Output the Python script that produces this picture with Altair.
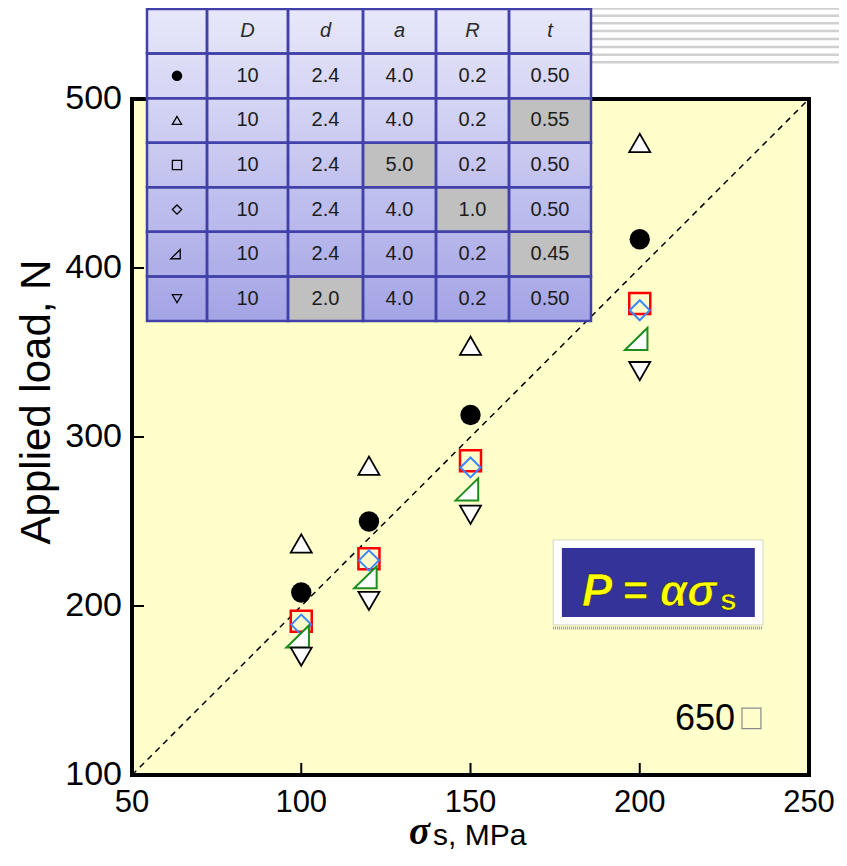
import altair as alt
import pandas as pd

# ------------------------------------------------------------------ data
sigma_s = [100, 120, 150, 200]

series_names = ["circle", "triangle_up", "square", "diamond", "right_triangle", "triangle_down"]
load_circle = [208, 250, 313, 417]
load_triangle_up = [237, 283, 354, 474]
load_square = [191, 228, 286, 379]
load_diamond = [189, 227, 282, 375]
load_right_triangle = [182, 217, 269, 358]
load_triangle_down = [170, 203, 254, 339]
series_loads = [load_circle, load_triangle_up, load_square, load_diamond,
                load_right_triangle, load_triangle_down]

fit_sigma = [50, 250]
fit_load = [100, 500]

x_ticks = [50, 100, 150, 200, 250]
y_ticks = [100, 200, 300, 400, 500]

table_header = ["", "D", "d", "a", "R", "t"]
col_D = ["10", "10", "10", "10", "10", "10"]
col_d = ["2.4", "2.4", "2.4", "2.4", "2.4", "2.0"]
col_a = ["4.0", "4.0", "5.0", "4.0", "4.0", "4.0"]
col_R = ["0.2", "0.2", "0.2", "1.0", "0.2", "0.2"]
col_t = ["0.50", "0.55", "0.50", "0.50", "0.45", "0.50"]
table_cols = [col_D, col_d, col_a, col_R, col_t]

temperature_label = "650"
y_title = "Applied load, N"

# ------------------------------------------------------------------ styles / layout
W, H = 677, 676
RIGHT_TRI = "M -1.35 1 L 0.7 1 L 0.7 -1 Z"
SHAPES = ["circle", "triangle-up", "square", "diamond", RIGHT_TRI, "triangle-down"]
STYLE = {
    "circle": dict(shape="circle", fill="black", stroke="black", strokeWidth=0, size=415),
    "triangle_up": dict(shape="triangle-up", fill="white", stroke="black", strokeWidth=1.8, size=441),
    "square": dict(shape="square", fill="transparent", stroke="#ff0000", strokeWidth=2.5, size=441),
    "diamond": dict(shape="diamond", fill="transparent", stroke="#3a86ff", strokeWidth=2, size=400),
    "right_triangle": dict(shape=RIGHT_TRI, fill="white", stroke="#1e8c1e", strokeWidth=2, size=484),
    "triangle_down": dict(shape="triangle-down", fill="white", stroke="black", strokeWidth=1.8, size=441),
}
TABLE_FILLS = ["black", "transparent", "transparent", "transparent", "transparent", "transparent"]
FONT = "Liberation Sans"

xs = alt.Scale(domain=[50, 250], nice=False, zero=False)
ys = alt.Scale(domain=[100, 500], nice=False, zero=False)

ONE = pd.DataFrame({"k": [0]})


def X(field, **kw):
    return alt.X(field, scale=xs, axis=None, **kw)


def Y(field, **kw):
    return alt.Y(field, scale=ys, axis=None, **kw)


# ------------------------------------------------------------------ main plot
fit = alt.Chart(pd.DataFrame({"sigma": fit_sigma, "load": fit_load})).mark_line(
    color="black", strokeDash=[6, 5], strokeWidth=1.5
).encode(x=X("sigma:Q"), y=Y("load:Q"))

left_ticks = alt.Chart(pd.DataFrame({"v": y_ticks})).mark_rule(color="black", strokeWidth=2).encode(
    y=Y("v:Q"), x=alt.value(0), x2=alt.value(12))
bottom_ticks = alt.Chart(pd.DataFrame({"v": x_ticks})).mark_rule(color="black", strokeWidth=2).encode(
    x=X("v:Q"), y=alt.value(H), y2=alt.value(H - 12))

# tick labels (drawn through the same scales)
x_labels = alt.Chart(pd.DataFrame({"v": x_ticks})).mark_text(
    font=FONT, fontSize=31, color="black", align="center", baseline="top"
).encode(x=X("v:Q"), y=alt.value(H + 13), text="v:Q")
y_labels = alt.Chart(pd.DataFrame({"v": y_ticks})).mark_text(
    font=FONT, fontSize=34, color="black", align="right", baseline="middle"
).encode(y=Y("v:Q"), x=alt.value(-10), text="v:Q")

point_layers = []
for name, vals in zip(series_names, series_loads):
    st = STYLE[name]
    point_layers.append(
        alt.Chart(pd.DataFrame({"sigma": sigma_s, "load": vals})).mark_point(
            filled=True, opacity=1, fillOpacity=1, **st
        ).encode(x=X("sigma:Q"), y=Y("load:Q"))
    )

# formula box  P = alpha sigma_s  (annotation placed in data units)
box_outer = alt.Chart(pd.DataFrame({"x": [174.4], "x2": [236.4], "y": [188.8], "y2": [239.1]})).mark_rect(
    fill="white", stroke="#d6d6c0", strokeWidth=1).encode(x=X("x:Q"), x2="x2:Q", y=Y("y:Q"), y2="y2:Q")
box_inner = alt.Chart(pd.DataFrame({"x": [177.0], "x2": [234.0], "y": [193.5], "y2": [234.3]})).mark_rect(
    fill="#333399").encode(x=X("x:Q"), x2="x2:Q", y=Y("y:Q"), y2="y2:Q")
box_shadow = alt.Chart(pd.DataFrame({"x": [174.4], "x2": [236.4], "y": [187.0]})).mark_rule(
    color="#9a9a90", strokeWidth=3, strokeDash=[1, 1]).encode(x=X("x:Q"), x2="x2:Q", y=Y("y:Q"))

formula_parts = [
    ("P", 182.9, 200.0, 46, "italic"),
    ("=", 195.0, 200.0, 44, "normal"),
    ("ασ", 206.0, 200.0, 44, "italic"),
    ("s", 223.7, 197.6, 30, "normal"),
]
formula_layers = []
for txt, px, py, fs, style in formula_parts:
    formula_layers.append(
        alt.Chart(pd.DataFrame({"x": [px], "y": [py], "t": [txt]})).mark_text(
            font=FONT, fontSize=fs, fontWeight="bold", fontStyle=style, color="#ffff00",
            stroke="#15153c", strokeWidth=0.6, align="left", baseline="alphabetic"
        ).encode(x=X("x:Q"), y=Y("y:Q"), text="t:N")
    )

temp_text = alt.Chart(pd.DataFrame({"x": [210.4], "y": [126.6], "t": [temperature_label]})).mark_text(
    font=FONT, fontSize=36, color="black", align="left", baseline="alphabetic"
).encode(x=X("x:Q"), y=Y("y:Q"), text="t:N")
tofu = alt.Chart(pd.DataFrame({"x": [230.2], "x2": [235.8], "y": [127.4], "y2": [139.6]})).mark_rect(
    fill="transparent", stroke="#8a8a8a", strokeWidth=1.2).encode(x=X("x:Q"), x2="x2:Q", y=Y("y:Q"), y2="y2:Q")

# axis titles
y_title_mark = alt.Chart(ONE).mark_text(
    text=y_title, font=FONT, fontSize=42, angle=270, align="center", baseline="alphabetic", color="black"
).encode(x=alt.value(-82), y=alt.value(303))
x_title_sigma = alt.Chart(ONE).mark_text(
    text="σ", font="Liberation Serif", fontSize=39, fontStyle="italic", fontWeight="bold",
    align="left", baseline="alphabetic", color="black"
).encode(x=alt.value(277), y=alt.value(745))
x_title_rest = alt.Chart(ONE).mark_text(
    text="s, MPa", font=FONT, fontSize=30, align="left", baseline="alphabetic", color="black"
).encode(x=alt.value(301), y=alt.value(746))

main = alt.layer(fit, left_ticks, bottom_ticks, x_labels, y_labels, *point_layers,
                 box_outer, box_inner, box_shadow, *formula_layers, temp_text, tofu,
                 y_title_mark, x_title_sigma, x_title_rest)

# ------------------------------------------------------------------ slide stripes (decoration)
STRIPE_Y = [-90.5, -83.3, -75.7, -68, -60, -52, -44.3, -36.7]
stripes = alt.layer(*[
    alt.Chart(ONE).mark_rule(color="#d0d0d0", strokeWidth=2.5).encode(
        x=alt.value(440), x2=alt.value(710), y=alt.value(v))
    for v in STRIPE_Y
])

# ------------------------------------------------------------------ parameter table
tx = alt.Scale(domain=[0, 1, 2, 3, 4, 5, 6], range=[15, 75, 156, 231, 304, 377, 459], nice=False, zero=False)
ty = alt.Scale(domain=[0, 7], range=[-90, 222], nice=False, zero=False)


def TX(field):
    return alt.X(field, scale=tx, axis=None)


def TY(field):
    return alt.Y(field, scale=ty, axis=None)


value_rows = []
for r in range(6):
    for c, col in enumerate(table_cols):
        value_rows.append({"r": r + 1, "c": c + 1, "t": col[r], "hl": col[r] != col[0]})
values_df = pd.DataFrame(value_rows)
header_df = pd.DataFrame({"r": [0] * 5, "c": list(range(1, 6)), "t": table_header[1:]})
grid_df = pd.DataFrame([{"r": r, "c": c} for r in range(7) for c in range(6)])
sym_df = pd.DataFrame({"series": series_names, "r": list(range(1, 7)), "c": [0] * 6})

grad = alt.LinearGradient(
    gradient="linear",
    stops=[alt.GradientStop(color="#e8e8fa", offset=0), alt.GradientStop(color="#a4a4e6", offset=1)],
    x1=0, x2=0, y1=0, y2=1,
)
t_bg = alt.Chart(pd.DataFrame({"c0": [0], "c1": [6], "r0": [0], "r1": [7]})).mark_rect(fill=grad).encode(
    x=TX("c0:Q"), x2="c1:Q", y=TY("r0:Q"), y2="r1:Q")


def cell_edges(ch):
    return ch.transform_calculate(c0="datum.c", c1="datum.c + 1", r0="datum.r", r1="datum.r + 1",
                                  cm="datum.c + 0.5", rm="datum.r + 0.5")


t_hl = cell_edges(alt.Chart(values_df)).transform_filter("datum.hl").mark_rect(fill="#c0c0c0").encode(
    x=TX("c0:Q"), x2="c1:Q", y=TY("r0:Q"), y2="r1:Q")
t_grid = cell_edges(alt.Chart(grid_df)).mark_rect(fill="transparent", stroke="#4141a9", strokeWidth=2.5).encode(
    x=TX("c0:Q"), x2="c1:Q", y=TY("r0:Q"), y2="r1:Q")
t_vals = cell_edges(alt.Chart(values_df)).mark_text(
    font=FONT, fontSize=20, color="#1c1c1c", baseline="middle", align="center").encode(
    x=TX("cm:Q"), y=TY("rm:Q"), text="t:N")
t_head = cell_edges(alt.Chart(header_df)).mark_text(
    font=FONT, fontSize=20, fontStyle="italic", color="#2a2a2a", baseline="middle", align="center").encode(
    x=TX("cm:Q"), y=TY("rm:Q"), text="t:N")
t_sym = cell_edges(alt.Chart(sym_df)).mark_point(
    filled=True, opacity=1, stroke="black", strokeWidth=1.3, size=85).encode(
    x=TX("cm:Q"), y=TY("rm:Q"),
    shape=alt.Shape("series:N", scale=alt.Scale(domain=series_names, range=SHAPES), legend=None),
    fill=alt.Fill("series:N", scale=alt.Scale(domain=series_names, range=TABLE_FILLS), legend=None),
)

table = alt.layer(t_bg, t_hl, t_grid, t_vals, t_head, t_sym)

chart = alt.layer(main, stripes, table).resolve_scale(x="independent", y="independent").properties(
    width=W, height=H,
    autosize=alt.AutoSizeParams(type="none"),
    padding={"left": 124, "top": 91, "right": 30, "bottom": 79},
).configure_view(fill="#ffffcc", stroke="black", strokeWidth=4)

chart.save("out.html", embed_options={"renderer": "svg", "actions": False})
